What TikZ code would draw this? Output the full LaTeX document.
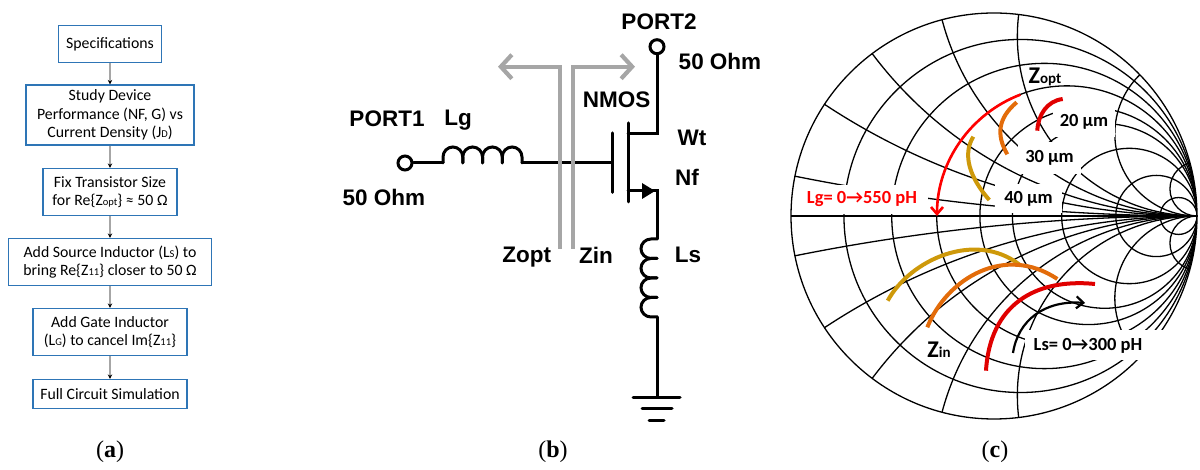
\documentclass[tikz,border=0pt]{standalone}
\usepackage{fontspec}
\setmainfont{Carlito}
\newfontfamily\arialfont{Liberation Sans}
\newfontfamily\captfont{Liberation Serif}
\usetikzlibrary{arrows.meta,calc}
\definecolor{boxblue}{RGB}{46,117,182}
\definecolor{gridgrey}{RGB}{166,166,166}
\definecolor{sizegold}{RGB}{206,153,10}
\definecolor{sizeorange}{RGB}{227,108,10}
\definecolor{sizered}{RGB}{224,0,0}
\def\sm#1{{\fontsize{10.5}{10.5}\selectfont #1}}
\def\zsub#1{{\fontsize{15}{15}\selectfont #1}}

\begin{document}
\begin{tikzpicture}[
		x=1pt,y=1pt,
		flowbox/.style={
			draw=boxblue,
			line width=1.1pt,
			align=center,
			inner sep=0pt,
			font=\fontsize{15.8}{18.7}\selectfont
		},
		flowarrow/.style={
			draw=gridgrey,
			line width=1.2pt,
			-{Stealth[black,length=4.5pt,width=4.5pt]}
		},
		wire/.style={
			line width=3pt,
			line cap=round
		},
		port/.style={
			draw,
			circle,
			line width=3pt,
			minimum size=14pt,
			inner sep=0pt
		},
		cirlabel/.style={
			inner sep=0pt,
			font=\arialfont\bfseries\fontsize{22.5}{22.5}\selectfont
		},
		impedance/.style={
			draw=gridgrey,
			line width=4.2pt,
			-{Straight Barb[length=11pt,width=24pt]}
		},
		gridline/.style={
			line width=1.3pt
		},
		labelbox/.style={
			fill=white,
			inner sep=0pt,
			font=\bfseries\fontsize{18.5}{18.5}\selectfont
		},
		sweep/.style={
			line width=4pt
		},
		caption/.style={
			inner sep=0pt,
			font=\captfont\fontsize{24}{24}\selectfont
		}
		]
		\useasboundingbox (0,0) rectangle (1200,470);
		% flow chart
		\node[flowbox,minimum width=103pt,minimum height=37pt] (specs) at (110,426) {Specifications};
		\node[flowbox,minimum width=168pt,minimum height=60pt] (study) at (110,355) {Study Device\\Performance (NF, G) vs\\Current Density (J\sm{D})};
		\node[flowbox,minimum width=134pt,minimum height=47pt] (fixsize) at (110,278) {Fix Transistor Size\\for Re\{Z\sm{opt}\} ≈ 50 Ω};
		\node[flowbox,minimum width=203pt,minimum height=47pt] (source) at (110,208) {Add Source Inductor (L\sm{S}) to\\bring Re\{Z\sm{11}\} closer to 50 Ω};
		\node[flowbox,minimum width=154pt,minimum height=47pt] (gate) at (110,138) {Add Gate Inductor\\(L\sm{G}) to cancel Im\{Z\sm{11}\}};
		\node[flowbox,minimum width=154pt,minimum height=29pt] (full) at (110,76) {Full Circuit Simulation};
		\draw[flowarrow] (specs) -- (study);
		\draw[flowarrow] (study) -- (fixsize);
		\draw[flowarrow] (fixsize) -- (source);
		\draw[flowarrow] (source) -- (gate);
		\draw[flowarrow] (gate) -- (full);
		\node[caption] (capa) at (110,18) {(\textbf{a})};

		% circuit
		\node[port] (porttwo) at (657,423.3) {};
		\node[port] (portone) at (405,307) {};
		\coordinate (drain) at (657,336);
		\coordinate (lgin) at (443,307);
		\coordinate (lgout) at (522,307);
		\coordinate (gatein) at (612,307);
		\coordinate (srcleft) at (628,279);
		\coordinate (srcright) at (657,279);
		\coordinate (lstop) at (657,231);
		\coordinate (lsbot) at (657,153);
		\coordinate (gnd) at (657,72.5);
		\draw[wire] (porttwo) -- (drain) -- (628,336);
		\draw[wire] (628,347) -- (628,268);
		\draw[wire] (612,337) -- (612,277.5);
		\draw[wire] (portone) -- (lgin);
		\foreach \i in {0,1,2,3}
			\draw[wire] ($(lgin)+(19.75*\i,0)$) -- ++(0,6) arc[start angle=180,end angle=0,x radius=9.875,y radius=10] -- ++(0,-6);
		\draw[wire] (lgout) -- (gatein);
		\draw[wire] (srcleft) -- (srcright) -- (lstop);
		\fill (655,279) -- (642,287) -- (642,271) -- cycle;
		\foreach \i in {0,1,2,3}
			\draw[wire] ($(lstop)+(0,-19.5*\i)$) -- ++(-6,0) arc[start angle=90,end angle=270,x radius=10,y radius=9.75] -- ++(6,0);
		\draw[wire] (lsbot) -- (gnd);
		\draw[wire] (633,72.5) -- (680,72.5);
		\draw[wire] (642,61) -- (672,61);
		\draw[wire] (649,49) -- (664,49);
		\coordinate (zoptfoot) at (559.7,221);
		\coordinate (zoptknee) at (559.7,403.3);
		\coordinate (zopttip) at (498,403.3);
		\coordinate (zinfoot) at (572.7,221);
		\coordinate (zinknee) at (572.7,403.3);
		\coordinate (zintip) at (635,403.3);
		\draw[impedance] (zoptfoot) -- (zoptknee) -- (zopttip);
		\draw[impedance] (zinfoot) -- (zinknee) -- (zintip);
		\node[cirlabel] (porttwolab) at (659,448) {PORT2};
		\node[cirlabel] (zlright) at (720,408.3) {50 Ohm};
		\node[cirlabel] (nmos) at (616.7,370.7) {NMOS};
		\node[cirlabel] (portonelab) at (387,351) {PORT1};
		\node[cirlabel] (lg) at (458,350) {Lg};
		\node[cirlabel] (zlleft) at (384,273) {50 Ohm};
		\node[cirlabel] (wt) at (692,332) {Wt};
		\node[cirlabel] (nf) at (687,293) {Nf};
		\node[cirlabel] (zopt) at (526.7,212.7) {Zopt};
		\node[cirlabel] (zin) at (596,215) {Zin};
		\node[cirlabel] (ls) at (688,215) {Ls};
		\node[caption] (capb) at (553,18) {(\textbf{b})};

		% smith chart
		\begin{scope}
			\clip (994,254) circle[radius=203];
			\foreach \r in {0.15,0.33,0.56,0.87,1.2,2,4,10}
				\draw[gridline] ({1197-203/(1+\r)},254) circle[radius={203/(1+\r)}];
			\foreach \r in {0.1,0.3,0.5,0.77,1.13,2.47,7.5} {
				\draw[gridline] (1197,{254+203/\r}) circle[radius={203/\r}];
				\draw[gridline] (1197,{254-203/\r}) circle[radius={203/\r}];
			}
		\end{scope}
		\draw[gridline] (994,254) circle[radius=203];
		\draw[gridline] (791,254) -- (1197,254);
		\fill[white] (1025,110) rectangle (1165,140);
		\node[labelbox,minimum width=62pt,minimum height=31pt] (twenty) at (1084,348.5) {20 µm};
		\node[labelbox,minimum width=63pt,minimum height=32pt] (thirty) at (1049.5,312) {30 µm};
		\node[labelbox,minimum width=67pt,minimum height=29pt] (forty) at (1028.5,271.5) {40 µm};
		\node[labelbox,minimum width=132pt,minimum height=29pt,text=red] (lgsweep) at (862,270.5) {Lg= 0→550 pH};
		\node[labelbox,inner sep=0pt,fill=none] (lssweep) at (1088,124.3) {Ls= 0→300 pH};
		\node[labelbox,fill=none] (zoptc) at (1045,393) {\fontsize{24}{24}\selectfont Z\zsub{opt}};
		\node[labelbox,fill=none] (zinc) at (939,120) {\fontsize{24}{24}\selectfont Z\zsub{in}};
		\draw[line width=2.6pt,red,-{Straight Barb[length=7pt,width=12pt]}] ([shift=(111:130)]1067,254) arc[start angle=111,end angle=180,radius=130];
		\draw[sweep,sizegold] (973.3,333.3) .. controls (962,315) and (970,292) .. (989.3,270);
		\draw[sweep,sizeorange] (1016.7,367.7) .. controls (998,352) and (996,335) .. (1007.3,315.7);
		\draw[sweep,sizered] (1062.7,371) .. controls (1047,369) and (1038,355) .. (1037.3,339.3);
		\draw[sweep,sizegold] (887.7,169.3) .. controls (910,210) and (975,240) .. (1020,205);
		\draw[sweep,sizeorange] (927.3,142.7) .. controls (947,192) and (1005,226) .. (1057.3,191);
		\draw[sweep,sizered] (986,99.3) .. controls (990,165) and (1035,192) .. (1095,186);
		\draw[line width=2.2pt,-{Straight Barb[length=7pt,width=12pt]}] (1013,117) .. controls (1018,150) and (1045,170) .. (1085,167);
		\node[caption] (capc) at (995,18) {(\textbf{c})};
\end{tikzpicture}
\end{document}
